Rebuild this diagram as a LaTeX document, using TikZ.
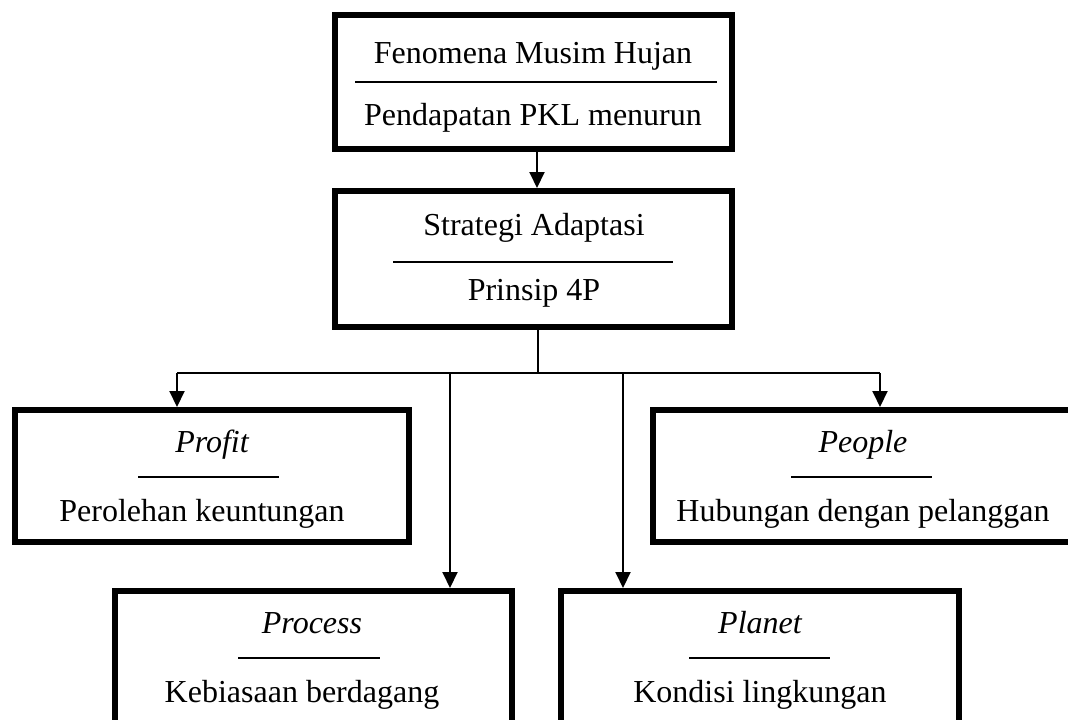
\documentclass[tikz,border=0pt]{standalone}
\usepackage{fontspec}
\setmainfont{Liberation Serif}
\usetikzlibrary{arrows.meta}

\tikzset{
  kotak/.style={draw, line width=6pt, inner sep=0pt},
  teks/.style={font=\fontsize{32}{38}\selectfont, anchor=base, inner sep=0pt},
  judul/.style={teks, font=\fontsize{32}{38}\selectfont\itshape},
  garis/.style={line width=2pt},
  panah/.style={line width=2pt, -{Triangle[width=15pt,length=16pt]}},
}

\begin{document}
\begin{tikzpicture}[x=1pt,y=-1pt]
    \useasboundingbox (0,0) rectangle (1068,720);

    % kotak utama
    \node[kotak, minimum width=397pt, minimum height=134pt] (fenomena) at (533.5,82) {};
    \node[kotak, minimum width=397pt, minimum height=136pt] (strategi) at (533.5,259) {};

    % kotak 4P
    \node[kotak, minimum width=394pt, minimum height=132pt] (profit) at (212,476) {};
    \node[kotak, minimum width=420pt, minimum height=132pt] (people) at (863,476) {};
    \node[kotak, minimum width=397pt, minimum height=132pt] (process) at (313.5,657) {};
    \node[kotak, minimum width=398pt, minimum height=132pt] (planet) at (760,657) {};

    % isi kotak
    \node[teks] (fen1) at (533,63) {Fenomena Musim Hujan};
    \draw[garis] (355,82) -- (717,82);
    \node[teks] (fen2) at (533,125) {Pendapatan PKL menurun};

    \node[teks] (str1) at (534,235) {Strategi Adaptasi};
    \draw[garis] (393,262) -- (673,262);
    \node[teks] (str2) at (534,300) {Prinsip 4P};

    \node[judul] (pro1) at (212,452) {Profit};
    \draw[garis] (138,477) -- (279,477);
    \node[teks] (pro2) at (202,521) {Perolehan keuntungan};

    \node[judul] (peo1) at (863,452) {People};
    \draw[garis] (791,477) -- (932,477);
    \node[teks] (peo2) at (863,521) {Hubungan dengan pelanggan};

    \node[judul] (prc1) at (312,633) {Process};
    \draw[garis] (238,658) -- (380,658);
    \node[teks] (prc2) at (302,702) {Kebiasaan berdagang};

    \node[judul] (pla1) at (760,633) {Planet};
    \draw[garis] (689,658) -- (830,658);
    \node[teks] (pla2) at (760,702) {Kondisi lingkungan};

    % percabangan
    \coordinate (pusat) at (538,373);
    \coordinate (c-profit) at (177,373);
    \coordinate (c-process) at (450,373);
    \coordinate (c-planet) at (623,373);
    \coordinate (c-people) at (880,373);

    \draw[panah] (fenomena.south -| 537,0) -- (strategi.north -| 537,0);
    \draw[garis] (strategi.south -| pusat) -- (pusat);
    \draw[garis] (c-profit) -- (c-people);
    \draw[panah] (c-profit) -- (c-profit |- profit.north);
    \draw[panah] (c-people) -- (c-people |- people.north);
    \draw[panah] (c-process) -- (c-process |- process.north);
    \draw[panah] (c-planet) -- (c-planet |- planet.north);
\end{tikzpicture}
\end{document}
